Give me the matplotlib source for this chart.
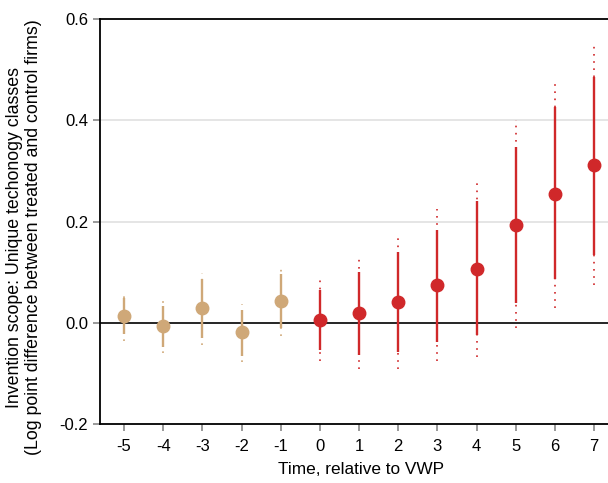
import matplotlib
matplotlib.use("Agg")
from matplotlib import pyplot as plt
import numpy as np

plt.rcParams['font.family'] = ['Liberation Sans', 'DejaVu Sans']

# event time, relative to VWP
periods = [-5, -4, -3, -2, -1, 0, 1, 2, 3, 4, 5, 6, 7]
coef = [0.013, -0.006, 0.029, -0.019, 0.042, 0.006, 0.019, 0.041, 0.074, 0.107, 0.194, 0.255, 0.311]
# 95% interval (solid)
ci95_lo = [-0.023, -0.048, -0.031, -0.065, -0.011, -0.054, -0.064, -0.058, -0.039, -0.025, 0.040, 0.087, 0.133]
ci95_hi = [0.048, 0.034, 0.087, 0.025, 0.096, 0.065, 0.100, 0.140, 0.184, 0.241, 0.347, 0.426, 0.486]
# 99% interval (dotted)
ci99_lo = [-0.036, -0.060, -0.044, -0.078, -0.026, -0.075, -0.092, -0.092, -0.076, -0.068, -0.011, 0.030, 0.074]
ci99_hi = [0.060, 0.048, 0.099, 0.038, 0.110, 0.086, 0.128, 0.172, 0.224, 0.283, 0.400, 0.480, 0.547]

pre_col = '#cfa878'
post_col = '#d0282a'

fig = plt.figure(figsize=(6.08, 4.83), dpi=100)
ax = fig.add_axes([100/608, 1-424/483, 508/608, 405/483])

for i, t in enumerate(periods):
    c = pre_col if t < 0 else post_col
    ax.plot([t, t], [ci99_lo[i], ci99_hi[i]], color=c, lw=1.2,
            linestyle=(0, (1, 3.3)), zorder=3)
    ax.plot([t, t], [ci95_lo[i], ci95_hi[i]], color=c, lw=1.7, zorder=4,
            solid_capstyle='butt')
    ax.plot(t, coef[i], 'o', color=c, ms=9, zorder=5)

ax.axhline(0, color='black', lw=1.2, zorder=2)
for g in [0.2, 0.4]:
    ax.axhline(g, color='#e0e0e0', lw=1.2, zorder=1)

ax.set_xlim(-5.613, 7.357)
ax.set_ylim(-0.2, 0.6)
ax.set_xticks(periods)
ax.set_xticklabels([str(p) for p in periods])
ax.set_yticks([-0.2, 0.0, 0.2, 0.4, 0.6])
ax.set_yticklabels(['-0.2', '0.0', '0.2', '0.4', '0.6'])

for s in ['left', 'bottom', 'top']:
    ax.spines[s].set_color('black')
    ax.spines[s].set_linewidth(1.3)
ax.spines['right'].set_visible(False)

ax.tick_params(axis='both', colors='#888888', labelcolor='black',
               labelsize=12, length=5, width=1.2)
ax.tick_params(axis='x', pad=6)

fig.text(24/608, 1-237/483,
         'Invention scope: Unique techonogy classes\n(Log point difference between treated and control firms)',
         rotation=90, ha='center', va='center', multialignment='center',
         fontsize=12.8, linespacing=1.15)
fig.text(361/608, 1-469/483, 'Time, relative to VWP', ha='center', va='center', fontsize=12.4)

fig.savefig('out.png', dpi=100)
